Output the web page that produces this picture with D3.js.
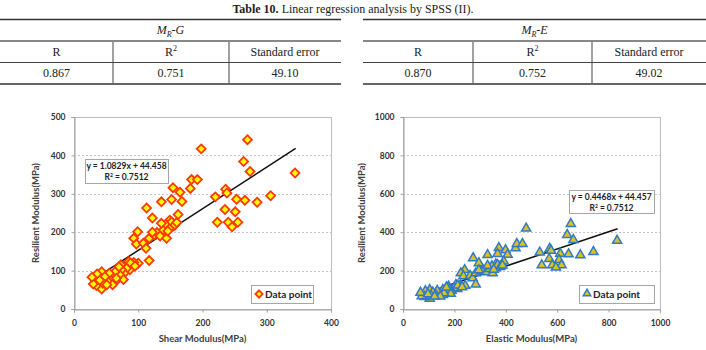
<!DOCTYPE html>
<html>
<head>
  <script type="text/javascript" src="https://d3js.org/d3.v7.min.js"></script>
</head>
<body>
<style type="text/css">
  html,
  body {
    margin: 0px;
    background: #ffffff;
    overflow: hidden;
  }
  .table-text {
    font-family: "Liberation Serif", "DejaVu Serif", serif;
    font-size: 12px;
    fill: #222;
  }
  .tick-label {
    font-family: Lato, "Open Sans", sans-serif;
    font-weight: bold;
    font-size: 8.5px;
    fill: #333;
  }
  .axis-title {
    font-family: Lato, "Open Sans", sans-serif;
    font-weight: bold;
    font-size: 9.5px;
    fill: #404040;
  }
  .box-text {
    font-family: Lato, "Open Sans", sans-serif;
    font-weight: bold;
    font-size: 8.5px;
    fill: #222;
  }
  .legend-text {
    font-family: Lato, "Open Sans", sans-serif;
    font-weight: bold;
    font-size: 10px;
    fill: #222;
  }
</style>

<script>
"use strict";

// Table values
const TABLE_HEADERS = ["R", "R2", "Standard error"];
const TABLE_G = ["0.867", "0.751", "49.10"];
const TABLE_E = ["0.870", "0.752", "49.02"];

// Scatter values (same samples in both charts)
const SHEAR_G = [198, 270, 264, 274, 344, 306, 285, 266, 253, 236, 238, 220, 235, 251, 223, 240, 255, 246,
  181, 183, 192, 154, 165, 168, 152, 136, 113, 122, 162, 149, 155, 99, 93, 97, 108, 112, 117, 117, 125, 129,
  134, 139, 144, 143, 149, 152, 157, 136, 122, 100, 93, 85, 91, 87, 82, 78, 73, 74, 72, 64, 64, 57, 55, 53,
  43, 43, 36, 35, 30, 28, 77, 66, 48, 45, 40, 60, 51, 88, 95, 70, 160, 146];
const ELASTIC_E = [479, 653, 639, 663, 833, 741, 690, 644, 612, 571, 576, 532, 569, 607, 540, 581, 617, 595,
  438, 443, 465, 373, 399, 407, 368, 329, 273, 295, 392, 361, 375, 240, 225, 235, 261, 271, 283, 283, 303, 312,
  324, 336, 349, 346, 361, 368, 380, 329, 295, 242, 225, 206, 220, 211, 198, 189, 177, 179, 174, 155, 155, 138, 133, 128,
  104, 104, 87, 85, 73, 68, 186, 160, 116, 109, 97, 145, 123, 213, 230, 169, 387, 353];
const RESILIENT_MR = [417, 441, 384, 358, 354, 295, 278, 283, 286, 312, 302, 292, 259, 253, 226, 226, 226, 214,
  314, 337, 337, 316, 304, 280, 285, 279, 263, 237, 246, 231, 217, 201, 184, 169, 171, 158, 126, 184, 193, 199,
  190, 206, 184, 221, 210, 227, 219, 223, 200, 119, 121, 123, 115, 102, 106, 93, 115, 102, 88, 97, 71, 77, 93, 71,
  97, 52, 91, 61, 65, 83, 77, 80, 84, 67, 75, 63, 63, 120, 112, 110, 225, 203];

// Regression lines: [slope, intercept, xStart, xEnd]
const FIT_G = [1.0829, 44.458, 28, 345];
const FIT_E = [0.4468, 44.457, 70, 835];

const X_TICKS_G = [0, 100, 200, 300, 400];
const Y_TICKS_G = [0, 100, 200, 300, 400, 500];
const X_TICKS_E = [0, 200, 400, 600, 800, 1000];
const Y_TICKS_E = [0, 200, 400, 600, 800, 1000];

document.addEventListener("DOMContentLoaded", function() {
  const WIDTH = 706;
  const HEIGHT = 350;

  const SVG = d3.select("body")
    .append("svg")
    .attr("width", WIDTH)
    .attr("height", HEIGHT)
    .style("display", "block");

  /******************************** Table ********************************/

  const TITLE = SVG.append("text")
    .attr("class", "table-text")
    .attr("x", 353)
    .attr("y", 13)
    .attr("text-anchor", "middle");
  TITLE.append("tspan").attr("font-weight", "bold").text("Table 10.");
  TITLE.append("tspan").text(" Linear regression analysis by SPSS (II).");

  function drawTable(x0, cols, sub, values) {
    const g = SVG.append("g");
    const x1 = cols[cols.length - 1];
    // horizontal rules
    g.append("line").attr("x1", x0).attr("x2", x1).attr("y1", 19.5).attr("y2", 19.5)
      .attr("stroke", "#333").attr("stroke-width", 1.6);
    g.append("line").attr("x1", x0).attr("x2", x1).attr("y1", 41).attr("y2", 41)
      .attr("stroke", "#888").attr("stroke-width", 2);
    g.append("line").attr("x1", x0).attr("x2", x1).attr("y1", 62.5).attr("y2", 62.5)
      .attr("stroke", "#444").attr("stroke-width", 1);
    g.append("line").attr("x1", x0).attr("x2", x1).attr("y1", 84).attr("y2", 84)
      .attr("stroke", "#333").attr("stroke-width", 1.6);
    // column separators
    [cols[1], cols[2]].forEach(function(cx) {
      g.append("line").attr("x1", cx).attr("x2", cx).attr("y1", 42).attr("y2", 83)
        .attr("stroke", "#444").attr("stroke-width", 1);
    });
    // header
    const h = g.append("text").attr("class", "table-text")
      .attr("x", (x0 + x1) / 2).attr("y", 34).attr("text-anchor", "middle")
      .attr("font-style", "italic");
    h.append("tspan").text("M");
    h.append("tspan").attr("font-size", "8px").attr("dy", 3).text("R");
    h.append("tspan").attr("dy", -3).text("-" + sub);

    for (let i = 0; i < 3; i++) {
      const cx = (cols[i] + cols[i + 1]) / 2;
      const t = g.append("text").attr("class", "table-text")
        .attr("x", cx).attr("y", 56).attr("text-anchor", "middle");
      if (TABLE_HEADERS[i] === "R2") {
        t.append("tspan").text("R");
        t.append("tspan").attr("font-size", "8px").attr("dy", -5).text("2");
      } else {
        t.text(TABLE_HEADERS[i]);
      }
      g.append("text").attr("class", "table-text")
        .attr("x", cx).attr("y", 77).attr("text-anchor", "middle")
        .text(values[i]);
    }
  }

  drawTable(0, [0, 113, 229, 341], "G", TABLE_G);
  drawTable(363, [363, 473, 592, 706], "E", TABLE_E);

  /******************************** Scatter charts ********************************/

  function drawScatter(opt) {
    const X_SCALE = d3.scaleLinear().domain(opt.xDomain).range([opt.left, opt.right]);
    const Y_SCALE = d3.scaleLinear().domain(opt.yDomain).range([opt.bottom, opt.top]);
    const g = SVG.append("g");

    // dashed gridlines
    g.selectAll(".grid")
      .data(opt.yTicks.slice(1, -1))
      .enter()
      .append("line")
      .attr("x1", opt.left).attr("x2", opt.right)
      .attr("y1", function(d) { return Math.round(Y_SCALE(d)) + 0.5; })
      .attr("y2", function(d) { return Math.round(Y_SCALE(d)) + 0.5; })
      .attr("stroke", "#c4c4c4")
      .attr("stroke-dasharray", "2,2");

    // plot frame
    g.append("rect")
      .attr("x", opt.left + 0.5).attr("y", opt.top + 0.5)
      .attr("width", opt.right - opt.left).attr("height", opt.bottom - opt.top)
      .attr("fill", "none").attr("stroke", "#bdbdbd");

    // axes
    const xAxis = g.append("g")
      .attr("transform", "translate(0," + (opt.bottom + 0.5) + ")")
      .call(d3.axisBottom(X_SCALE).tickValues(opt.xTicks).tickFormat(d3.format("d")).tickSize(3).tickPadding(7));
    const yAxis = g.append("g")
      .attr("transform", "translate(" + (opt.left + 0.5) + ",0)")
      .call(d3.axisLeft(Y_SCALE).tickValues(opt.yTicks).tickFormat(d3.format("d")).tickSize(3).tickPadding(6));
    [xAxis, yAxis].forEach(function(a) {
      a.select(".domain").attr("stroke", "#a0a0a0");
      a.selectAll(".tick line").attr("stroke", "#a0a0a0");
      a.selectAll(".tick text").attr("class", "tick-label").attr("font-family", null).attr("font-size", null);
    });

    // axis titles
    g.append("text").attr("class", "axis-title")
      .attr("x", (opt.left + opt.right) / 2).attr("y", 342)
      .attr("text-anchor", "middle").text(opt.xTitle);
    g.append("text").attr("class", "axis-title")
      .attr("transform", "translate(" + (opt.left - opt.yTitleOffset) + "," + ((opt.top + opt.bottom) / 2) + ") rotate(-90)")
      .attr("text-anchor", "middle").text("Resilient Modulus(MPa)");

    // regression line
    const fit = opt.fit;
    g.append("line")
      .attr("x1", X_SCALE(fit[2])).attr("y1", Y_SCALE(fit[0] * fit[2] + fit[1]))
      .attr("x2", X_SCALE(fit[3])).attr("y2", Y_SCALE(fit[0] * fit[3] + fit[1]))
      .attr("stroke", "#111").attr("stroke-width", 1.5);

    // points
    g.selectAll(".pt")
      .data(opt.xs)
      .enter()
      .append("path")
      .attr("d", opt.symbol)
      .attr("transform", function(d, i) {
        return "translate(" + X_SCALE(d) + "," + Y_SCALE(RESILIENT_MR[i]) + ")" + opt.rot;
      })
      .attr("fill", opt.fill)
      .attr("stroke", opt.stroke)
      .attr("stroke-width", opt.strokeWidth);

    // equation box
    const eb = opt.eqBox;
    g.append("rect")
      .attr("x", eb[0] + 0.5).attr("y", eb[1] + 0.5).attr("width", eb[2]).attr("height", eb[3])
      .attr("fill", "#fff").attr("stroke", "#a6a6a6");
    g.append("text").attr("class", "box-text")
      .attr("x", eb[0] + eb[2] / 2).attr("y", eb[1] + 10)
      .attr("text-anchor", "middle")
      .text("y = " + fit[0] + "x + " + fit[1]);
    const r2 = g.append("text").attr("class", "box-text")
      .attr("x", eb[0] + eb[2] / 2).attr("y", eb[1] + 20.5)
      .attr("text-anchor", "middle");
    r2.append("tspan").text("R");
    r2.append("tspan").attr("font-size", "5px").attr("dy", -3).text("2");
    r2.append("tspan").attr("dy", 3).text(" = 0.7512");

    // legend
    const lb = opt.legBox;
    g.append("rect")
      .attr("x", lb[0] + 0.5).attr("y", lb[1] + 0.5).attr("width", lb[2]).attr("height", lb[3])
      .attr("fill", "#fff").attr("stroke", "#a6a6a6");
    g.append("path")
      .attr("d", opt.legSymbol)
      .attr("transform", "translate(" + (lb[0] + 8) + "," + (lb[1] + lb[3] / 2) + ")" + opt.rot)
      .attr("fill", opt.fill)
      .attr("stroke", opt.stroke)
      .attr("stroke-width", opt.strokeWidth);
    g.append("text").attr("class", "legend-text")
      .attr("x", lb[0] + 14).attr("y", lb[1] + lb[3] / 2 + 3.5)
      .text("Data point");
  }

  drawScatter({
    xDomain: [0, 400], yDomain: [0, 500],
    left: 74, right: 331, top: 117, bottom: 309,
    xTicks: X_TICKS_G, yTicks: Y_TICKS_G,
    xTitle: "Shear Modulus(MPa)", yTitleOffset: 35,
    xs: SHEAR_G, fit: FIT_G,
    symbol: d3.symbol().type(d3.symbolSquare).size(40)(),
    legSymbol: d3.symbol().type(d3.symbolSquare).size(26)(),
    rot: " rotate(45)",
    fill: "#ffff00", stroke: "#ff3a00", strokeWidth: 1.8,
    eqBox: [85, 159, 83, 24],
    legBox: [251, 285, 62, 18]
  });

  drawScatter({
    xDomain: [0, 1000], yDomain: [0, 1000],
    left: 403, right: 660, top: 117, bottom: 309,
    xTicks: X_TICKS_E, yTicks: Y_TICKS_E,
    xTitle: "Elastic Modulus(MPa)", yTitleOffset: 38,
    xs: ELASTIC_E, fit: FIT_E,
    symbol: d3.symbol().type(d3.symbolTriangle).size(36)(),
    legSymbol: d3.symbol().type(d3.symbolTriangle).size(24)(),
    rot: " translate(0,-0.5)",
    fill: "#dcc21e", stroke: "#2f7bc4", strokeWidth: 1.5,
    eqBox: [569, 190, 85, 23],
    legBox: [579, 285, 75, 18]
  });
});
</script>
</body>
</html>
